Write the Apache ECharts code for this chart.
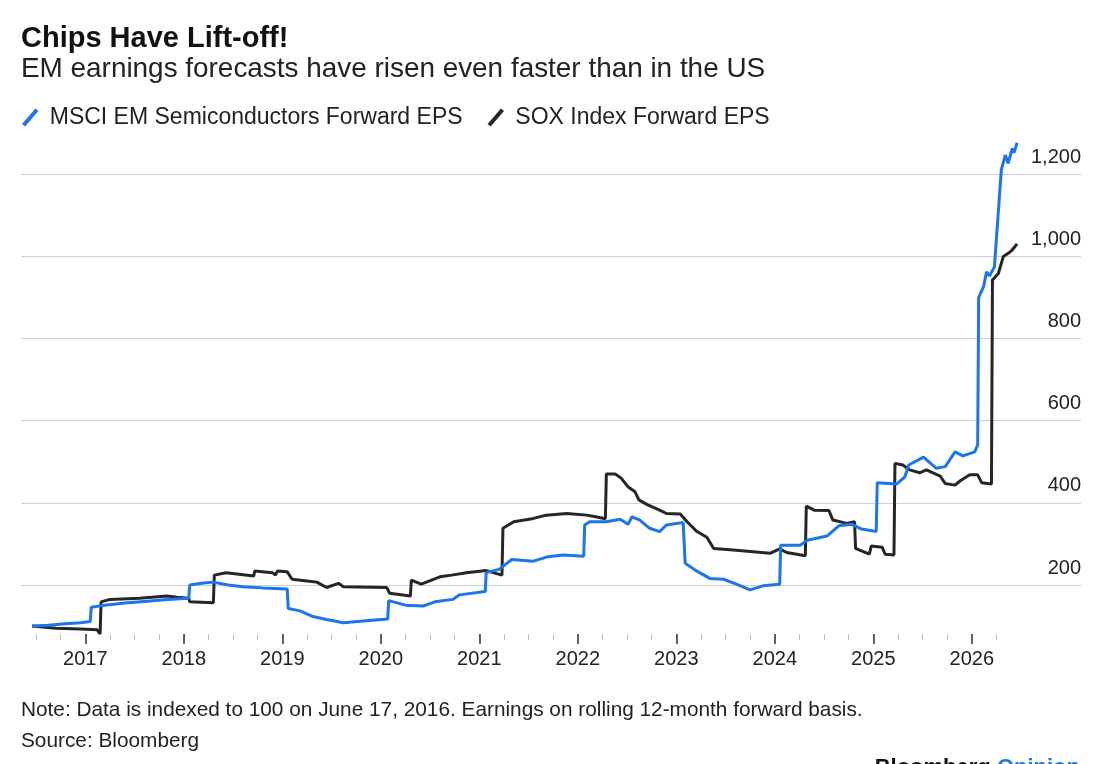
<!DOCTYPE html>
<html>
<head>
<meta charset="utf-8">
<script src="https://cdn.jsdelivr.net/npm/echarts@6/dist/echarts.min.js"></script>
<style>
    html, body { margin: 0; padding: 0; background: #fff; }
    #chart { width: 1106px; height: 764px; }
</style>
</head>
<body>
<div id="chart"></div>
<script>
// Data (x in decimal years, y indexed to 100 on June 17, 2016)
const emName = 'MSCI EM Semiconductors Forward EPS'
const soxName = 'SOX Index Forward EPS'
const emYears = [
    2016.46, 2016.62, 2016.8, 2016.95, 2017.05, 2017.06, 2017.2, 2017.4, 2017.6, 2017.8, 2018.05, 2018.06, 2018.2,
    2018.3, 2018.45, 2018.6, 2018.8, 2019.05, 2019.06, 2019.18, 2019.3, 2019.45, 2019.62, 2019.85, 2020.07, 2020.08,
    2020.25, 2020.43, 2020.55, 2020.73, 2020.8, 2021.06, 2021.07, 2021.2, 2021.33, 2021.55, 2021.7, 2021.85, 2022.06,
    2022.07, 2022.12, 2022.29, 2022.43, 2022.51, 2022.55, 2022.63, 2022.73, 2022.83, 2022.9, 2023.07, 2023.09, 2023.2,
    2023.34, 2023.48, 2023.61, 2023.75, 2023.88, 2024.05, 2024.06, 2024.26, 2024.33, 2024.53, 2024.65, 2024.78,
    2024.88, 2025.03, 2025.04, 2025.24, 2025.32, 2025.36, 2025.51, 2025.64, 2025.73, 2025.83, 2025.91, 2026.03,
    2026.06, 2026.07, 2026.12, 2026.15, 2026.18, 2026.23, 2026.3, 2026.34, 2026.37, 2026.41, 2026.43, 2026.46,
]
const emValues = [
    100, 102, 106, 108, 111, 146, 151, 156, 160, 164, 168, 200, 205, 207, 200, 196, 193, 190, 143, 137, 124, 116, 108,
    113, 117, 162, 151, 149, 159, 165, 176, 184, 230, 238, 262, 258, 269, 273, 270, 346, 354, 354, 360, 348, 366, 358,
    338, 330, 346, 352, 253, 235, 216, 214, 202, 188, 198, 202, 297, 297, 309, 319, 344, 348, 336, 330, 449, 446, 463,
    492, 511, 484, 488, 524, 514, 524, 541, 900, 926, 962, 952, 974, 1210, 1246, 1226, 1262, 1252, 1276,
]
const soxYears = [
    2016.46, 2016.7, 2016.95, 2017.12, 2017.15, 2017.16, 2017.25, 2017.55, 2017.83, 2017.93, 2018.05, 2018.06, 2018.3,
    2018.31, 2018.43, 2018.71, 2018.72, 2018.9, 2018.93, 2018.95, 2019.05, 2019.1, 2019.25, 2019.35, 2019.45, 2019.57,
    2019.62, 2020.06, 2020.09, 2020.3, 2020.31, 2020.41, 2020.6, 2020.72, 2020.87, 2021.07, 2021.23, 2021.24, 2021.35,
    2021.55, 2021.68, 2021.89, 2022.09, 2022.18, 2022.28, 2022.29, 2022.38, 2022.44, 2022.51, 2022.58, 2022.62,
    2022.71, 2022.83, 2022.9, 2023.04, 2023.11, 2023.21, 2023.31, 2023.38, 2023.58, 2023.78, 2023.95, 2024.05,
    2024.12, 2024.31, 2024.32, 2024.4, 2024.55, 2024.59, 2024.73, 2024.81, 2024.82, 2024.96, 2024.98, 2025.09,
    2025.12, 2025.21, 2025.22, 2025.3, 2025.37, 2025.47, 2025.54, 2025.68, 2025.73, 2025.83, 2025.88, 2025.98,
    2026.06, 2026.1, 2026.2, 2026.21, 2026.27, 2026.32, 2026.37, 2026.41, 2026.46,
]
const soxValues = [
    100, 95, 93, 91, 81, 159, 165, 168, 173, 170, 168, 159, 157, 224, 230, 222, 234, 230, 224, 234, 232, 214, 210, 207,
    194, 204, 196, 194, 180, 173, 212, 202, 220, 224, 230, 235, 224, 338, 354, 362, 370, 374, 370, 366, 361, 470, 470,
    460, 439, 427, 407, 395, 382, 374, 373, 354, 330, 316, 289, 285, 281, 277, 288, 279, 271, 392, 382, 381, 358, 350,
    354, 289, 275, 295, 292, 275, 273, 496, 492, 480, 473, 480, 465, 447, 443, 453, 468, 468, 449, 446, 942, 958, 999,
    1007, 1015, 1030,
]
// Axis ticks
const yTickMin = 200,
    yTickMax = 1200,
    yTickStep = 200
const yearFirst = 2017,
    yearLast = 2026
const quarterFirst = 2016.5,
    quarterLast = 2026.25,
    quarterStep = 0.25

// Layout
const W = 1106,
    H = 764
const font = 'Liberation Sans, Arial, sans-serif'
const blue = '#1b75ec',
    black = '#262626'
const plotLeft = 21,
    plotRight = 1081
const xMin = 2016.347,
    xMax = 2027.109
const yTopPx = 174, // pixel of yTickMax
    yBotPx = 585 // pixel of yTickMin
const dataMin = 0,
    dataMax = 1400
const tickAxisY = 634

const pxPerYear = (plotRight - plotLeft) / (xMax - xMin)
const xPx = (t) => plotLeft + (t - xMin) * pxPerYear
const pxPerUnit = (yBotPx - yTopPx) / (yTickMax - yTickMin)
const yPx = (v) => yBotPx + (yTickMin - v) * pxPerUnit

const zip = (xs, ys) => xs.map((x, i) => [x, ys[i]])
const slash = 'path://M0,15 L13,0 L16,2.5 L3,17.5 Z'

const myChart = echarts.init(document.getElementById('chart'))
const option = {
    backgroundColor: '#fff',
    animation: false,
    title: [
        {
            text: 'Chips Have Lift-off!',
            left: 21,
            top: 24,
            padding: 0,
            textStyle: { fontFamily: font, fontSize: 29, fontWeight: 'bold', color: '#111' },
        },
        {
            text: 'EM earnings forecasts have risen even faster than in the US',
            left: 21,
            top: 55,
            padding: 0,
            textStyle: { fontFamily: font, fontSize: 27.9, fontWeight: 'normal', color: '#222' },
        },
        {
            text: 'Note: Data is indexed to 100 on June 17, 2016. Earnings on rolling 12-month forward basis.',
            left: 21,
            top: 700,
            padding: 0,
            textStyle: { fontFamily: font, fontSize: 20.8, fontWeight: 'normal', color: '#222' },
        },
        {
            text: 'Source: Bloomberg',
            left: 21,
            top: 731,
            padding: 0,
            textStyle: { fontFamily: font, fontSize: 20.8, fontWeight: 'normal', color: '#222' },
        },
        {
            text: '{b|Bloomberg} {o|Opinion}',
            right: W - plotRight + 1,
            top: 757,
            padding: 0,
            textStyle: {
                fontFamily: font,
                fontSize: 22,
                rich: {
                    b: { fontFamily: font, fontSize: 22, fontWeight: 'bold', color: '#111' },
                    o: { fontFamily: font, fontSize: 22, fontWeight: 'bold', color: blue },
                },
            },
        },
    ],
    legend: {
        left: 22,
        top: 106,
        itemWidth: 17,
        itemHeight: 18,
        itemGap: 25,
        padding: 0,
        selectedMode: false,
        data: [
            { name: emName, icon: slash },
            { name: soxName, icon: slash },
        ],
        textStyle: { fontFamily: font, fontSize: 23, color: '#222', padding: [0, 0, 0, 6] },
    },
    grid: [
        // data
        {
            left: plotLeft,
            right: W - plotRight,
            top: yPx(dataMax),
            height: yPx(dataMin) - yPx(dataMax),
        },
        // gridlines + y labels
        { left: plotLeft, right: W - plotRight, top: yTopPx, height: yBotPx - yTopPx },
        // quarterly ticks
        {
            left: xPx(quarterFirst),
            right: W - xPx(quarterLast),
            top: tickAxisY - 10,
            height: 10,
        },
        // yearly ticks + labels
        {
            left: xPx(yearFirst),
            right: W - xPx(yearLast),
            top: tickAxisY - 10,
            height: 10,
        },
    ],
    xAxis: [
        { gridIndex: 0, type: 'value', min: xMin, max: xMax, show: false },
        { gridIndex: 1, type: 'value', min: 0, max: 1, show: false },
        {
            gridIndex: 2,
            type: 'value',
            min: quarterFirst,
            max: quarterLast,
            interval: quarterStep,
            axisLine: { show: true, lineStyle: { opacity: 0 } },
            axisTick: { show: true, length: 6, lineStyle: { color: '#bdbdbd', width: 1 } },
            axisLabel: { show: false },
            splitLine: { show: false },
        },
        {
            gridIndex: 3,
            type: 'value',
            min: yearFirst,
            max: yearLast,
            interval: 1,
            axisLine: { show: true, lineStyle: { opacity: 0 } },
            axisTick: { show: true, length: 10, lineStyle: { color: '#333', width: 1.5 } },
            axisLabel: {
                show: true,
                margin: 15,
                fontFamily: font,
                fontSize: 20,
                color: '#222',
                formatter: (v) => String(Math.round(v)),
            },
            splitLine: { show: false },
        },
    ],
    yAxis: [
        { gridIndex: 0, type: 'value', min: dataMin, max: dataMax, show: false },
        {
            gridIndex: 1,
            type: 'value',
            position: 'right',
            min: yTickMin,
            max: yTickMax,
            interval: yTickStep,
            axisLine: { show: false },
            axisTick: { show: false },
            axisLabel: {
                inside: true,
                margin: 0,
                align: 'right',
                verticalAlign: 'bottom',
                padding: [0, 0, 7, 0],
                fontFamily: font,
                fontSize: 20,
                color: '#222',
                formatter: (v) => v.toLocaleString('en-US'),
            },
            splitLine: { show: true, lineStyle: { color: '#cfcfcf', width: 1 } },
        },
        { gridIndex: 2, type: 'value', show: false },
        { gridIndex: 3, type: 'value', show: false },
    ],
    series: [
        {
            name: soxName,
            type: 'line',
            xAxisIndex: 0,
            yAxisIndex: 0,
            data: zip(soxYears, soxValues),
            showSymbol: false,
            color: black,
            lineStyle: { width: 3, color: black },
        },
        {
            name: emName,
            type: 'line',
            xAxisIndex: 0,
            yAxisIndex: 0,
            data: zip(emYears, emValues),
            showSymbol: false,
            color: blue,
            lineStyle: { width: 3, color: blue },
        },
    ],
}

myChart.setOption(option)
</script>
</body>
</html>
